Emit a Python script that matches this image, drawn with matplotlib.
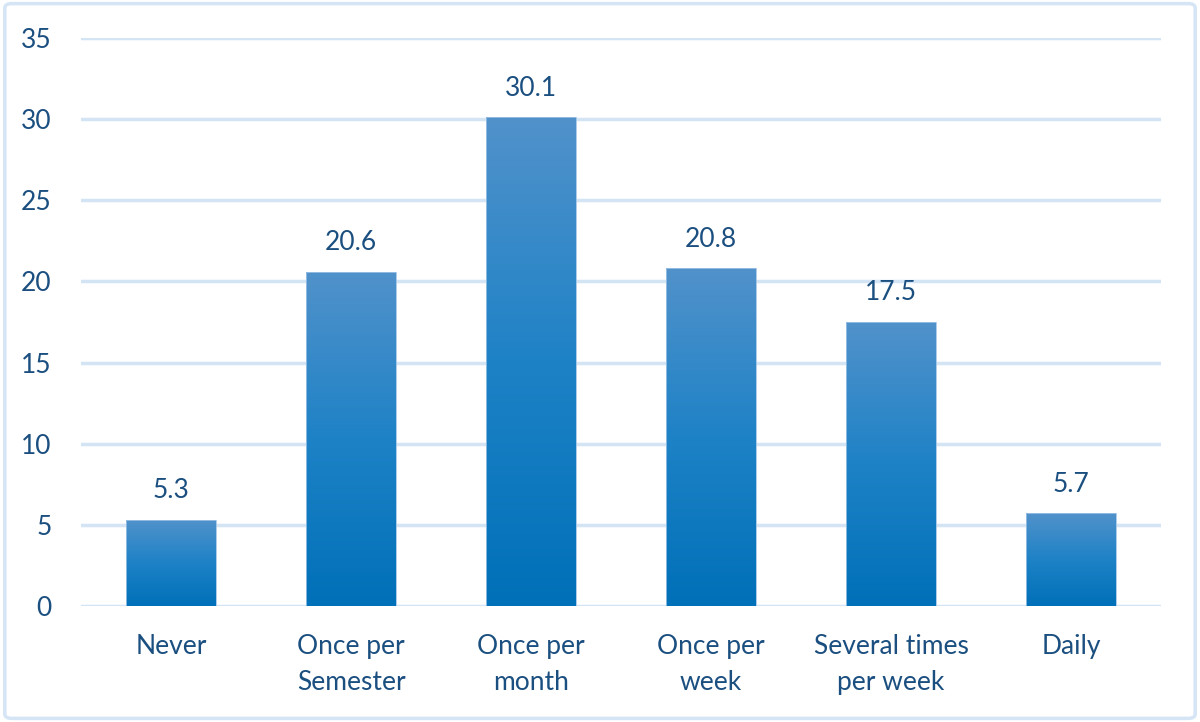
import numpy as np
import matplotlib
matplotlib.use("Agg")
from matplotlib import pyplot as plt
from matplotlib.colors import LinearSegmentedColormap
from matplotlib.patches import FancyBboxPatch

categories = ["Never", "Once per\nSemester", "Once per\nmonth", "Once per\nweek",
              "Several times\nper week", "Daily"]
values = [5.3, 20.6, 30.1, 20.8, 17.5, 5.7]
yticks = [0, 5, 10, 15, 20, 25, 30, 35]

text_color = "#1B4F80"
grid_color = "#D3E4F4"

plt.rcParams['font.family'] = ['Lato', 'DejaVu Sans']

fig = plt.figure(figsize=(12, 7.22), dpi=100)
ax = fig.add_axes([0.0675, 0.1607, 0.9, 0.7867])

x = np.arange(len(categories))
bars = ax.bar(x, values, width=0.5, color="none", edgecolor="#9DC3E6", linewidth=0.6, zorder=3)

# vertical gradient inside each bar
cmap = LinearSegmentedColormap.from_list("bar", ["#0070B8", "#1E82C6", "#5192CB"])
grad = np.linspace(0, 1, 256).reshape(-1, 1)
for b in bars:
    x0, w, h = b.get_x(), b.get_width(), b.get_height()
    im = ax.imshow(grad, cmap=cmap, origin="lower", aspect="auto",
                   extent=[x0, x0 + w, 0, h], zorder=2)
    im.set_clip_path(b)

for xi, v in zip(x, values):
    ax.annotate(f"{v:.1f}", (xi, v), xytext=(0, 12), textcoords="offset points",
                ha="center", va="bottom", fontsize=19, color=text_color)

ax.set_xlim(-0.5, len(categories) - 0.5)
ax.set_ylim(0, 35)
ax.set_yticks(yticks)
ax.set_xticks(x)
ax.set_xticklabels(categories, linespacing=1.55)
ax.tick_params(axis="both", length=0, labelsize=19, labelcolor=text_color)
ax.tick_params(axis="x", pad=20)
ax.tick_params(axis="y", pad=21)
ax.grid(axis="y", color=grid_color, linewidth=2.5, zorder=0)
ax.set_axisbelow(True)
for s in ax.spines.values():
    s.set_visible(False)

border = FancyBboxPatch((0.004, 0.005), 0.992, 0.99, boxstyle="round,pad=0,rounding_size=0.006",
                        transform=fig.transFigure, fill=False, edgecolor="#D5E5F5", linewidth=2.5)
fig.patches.append(border)

fig.savefig("out.png", dpi=100)
